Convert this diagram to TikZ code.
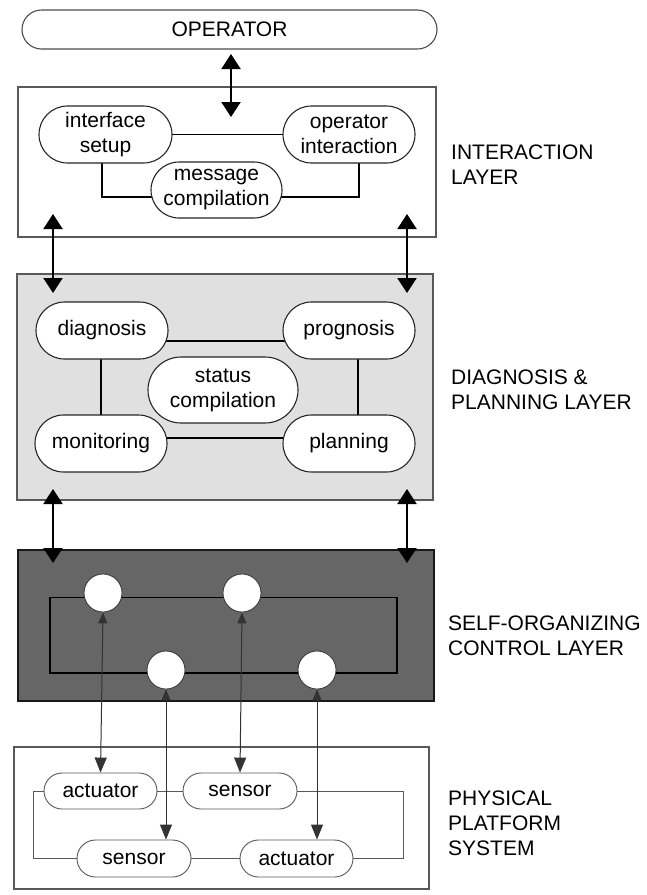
\documentclass[tikz,border=0pt]{standalone}
\usepackage{fontspec}
\setmainfont{Liberation Sans}
\usetikzlibrary{arrows.meta,shapes.misc,calc}
\pgfdeclarelayer{bg}
\pgfdeclarelayer{lines}
\pgfsetlayers{bg,lines,main}
\begin{document}
\begin{tikzpicture}[x=1pt,y=-1pt,
  txt/.style={font=\fontsize{21}{25}\selectfont},
  pill/.style={txt, rounded rectangle, draw=black!85, line width=1.1pt, fill=white,
    inner sep=0pt, align=center, minimum width=132pt, minimum height=57pt},
  smallpill/.style={txt, rounded rectangle, draw=black!65, line width=0.9pt, fill=white,
    inner sep=0pt, align=center, minimum width=113pt, minimum height=36pt},
  dot/.style={circle, draw=black!80, line width=0.8pt, fill=white, minimum size=38pt, inner sep=0pt},
  layerbox/.style={draw=black!65, line width=1.3pt},
  label/.style={txt, anchor=west, align=left, inner sep=0pt},
  conn/.style={draw=black, line width=1.6pt},
  thinconn/.style={draw=black!65, line width=1pt},
  bigarrow/.style={line width=2pt, {Triangle[width=19pt,length=15pt]}-{Triangle[width=19pt,length=15pt]}},
  ctrlarrow/.style={draw=black!80, line width=1pt, {Triangle[width=9pt,length=11pt]}-{Triangle[width=12pt,length=15pt]}}
]
\useasboundingbox (0,0) rectangle (646,895);

% layer boxes
\begin{pgfonlayer}{bg}
\fill[white] (0,0) rectangle (646,895);
\draw[layerbox, fill=white] (18,87) rectangle (436,237);
\draw[layerbox, fill=black!12] (17,274) rectangle (433,500);
\draw[layerbox, draw=black!90, fill=black!60] (18,550) rectangle (434,701);
\draw[layerbox] (14,747) rectangle (429,889);
\end{pgfonlayer}

% operator
\node[txt, rounded rectangle, draw=black!70, line width=1.1pt, minimum width=415pt, minimum height=39pt, inner sep=0pt] (op) at (229.5,29.5) {OPERATOR};

% interaction layer
\node[pill, minimum width=133pt] (ifs) at (105.5,134.5) {interface\\setup};
\node[pill] (opi) at (349,134.5) {operator\\interaction};
\node[pill, minimum width=131pt, minimum height=56pt] (msg) at (216.5,190) {message\\compilation};

% diagnosis layer
\node[pill] (diag) at (102,330.5) {diagnosis};
\node[pill] (prog) at (349,330.5) {prognosis};
\node[pill, minimum width=150pt, minimum height=66pt] (stat) at (223,390) {status\\compilation};
\node[pill] (mon) at (101,443.5) {monitoring};
\node[pill] (plan) at (349,443.5) {planning};

% control layer
\node[dot] (c1) at (103,593) {};
\node[dot] (c2) at (242,593) {};
\node[dot] (c3) at (166,670) {};
\node[dot] (c4) at (317,670) {};

% physical layer
\node[smallpill] (act1) at (100.5,791) {actuator};
\node[smallpill, minimum width=114pt] (sen1) at (240,791) {sensor};
\node[smallpill, minimum width=114pt, minimum height=37pt] (sen2) at (134,858.5) {sensor};
\node[smallpill, minimum height=37pt] (act2) at (296.5,858.5) {actuator};

% labels
\node[label] (l1) at (451,164.5) {INTERACTION\\LAYER};
\node[label] (l2) at (451,389.5) {DIAGNOSIS \&\\PLANNING LAYER};
\node[label] (l3) at (448,635.5) {SELF-ORGANIZING\\CONTROL LAYER};
\node[label] (l4) at (448,823) {PHYSICAL\\PLATFORM\\SYSTEM};

% arrow end coordinates
\coordinate (o1) at (231,54);
\coordinate (o2) at (231,117);
\coordinate (a1) at (53,214);
\coordinate (a2) at (53,293);
\coordinate (b1) at (407,214);
\coordinate (b2) at (407,293);
\coordinate (a3) at (53,489);
\coordinate (a4) at (53,563);
\coordinate (b3) at (407,489);
\coordinate (b4) at (407,563);

\begin{pgfonlayer}{lines}
% interaction connectors
\draw[conn] (ifs.center) -- (opi.center);
\draw[conn] ([xshift=-3.5pt]ifs.center) |- ([yshift=-7pt]msg.center);
\draw[conn] ([xshift=10pt]opi.center) |- ([yshift=-7pt]msg.center);
% diagnosis connectors
\draw[conn] ([yshift=-10.5pt]diag.center) -- ([yshift=-10.5pt]prog.center);
\draw[conn] ([yshift=5.5pt]mon.center) -- ([yshift=5.5pt]plan.center);
\draw[conn] ([xshift=-1pt]diag.center) -- ([xshift=0pt]mon.center);
\draw[conn] ([xshift=9pt]prog.center) -- ([xshift=9pt]plan.center);
% control loop
\draw[conn, line width=1.4pt] ($(c1.center)+(-53,4.5)$) rectangle ($(c4.center)+(80,3)$);
% physical connectors
\draw[thinconn] (act1.center) -- (sen1.center);
\draw[thinconn] (act1.center) -- ++(-67.5,0) |- (sen2.center);
\draw[thinconn] (sen2.center) -- (act2.center);
\draw[thinconn] (sen1.center) -- ++(163,0) |- (act2.center);
% arrows
\draw[bigarrow] (o1) -- (o2);
\draw[bigarrow] (a1) -- (a2);
\draw[bigarrow] (b1) -- (b2);
\draw[bigarrow] (a3) -- (a4);
\draw[bigarrow] (b3) -- (b4);
\draw[ctrlarrow] (c1.south) -- (act1.north);
\draw[ctrlarrow] (c2.south) -- (sen1.north);
\draw[ctrlarrow] (c3.south) -- (c3.south |- sen2.north);
\draw[ctrlarrow] (c4.south) -- (c4.south |- act2.north);
\end{pgfonlayer}
\end{tikzpicture}
\end{document}
